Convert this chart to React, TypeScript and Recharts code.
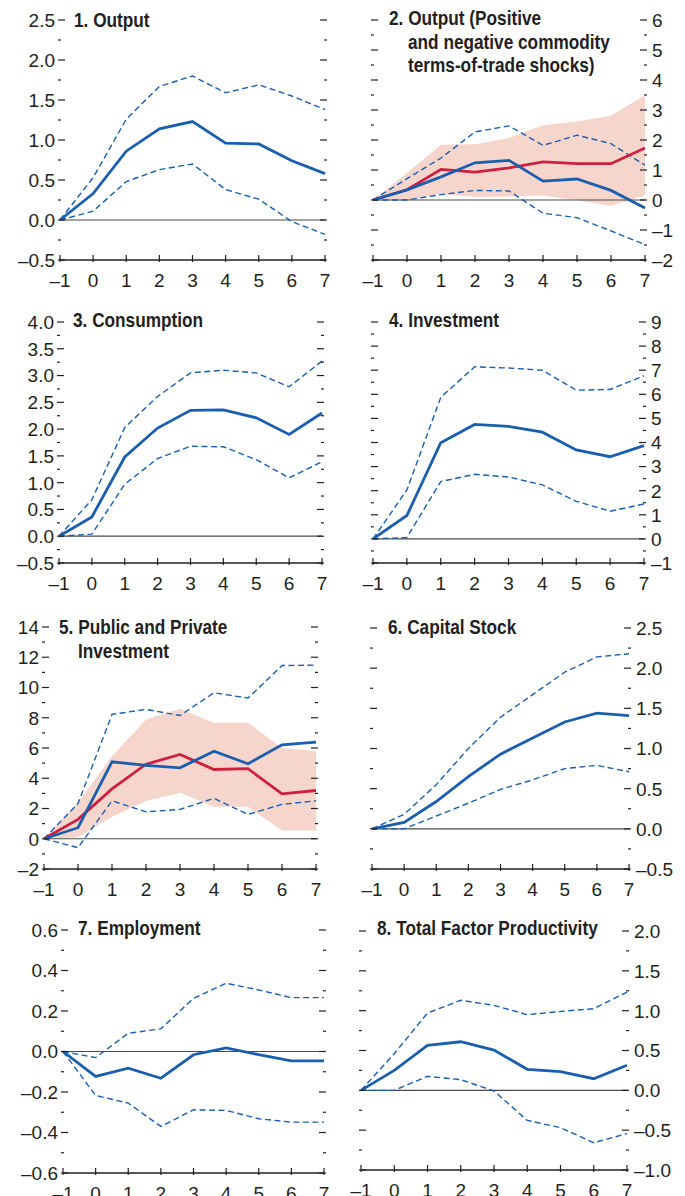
import React from 'react'
import { ComposedChart, Line, Area, XAxis, YAxis, ReferenceLine } from 'recharts'

// ── values (horizon −1 … 7) ────────────────────────────────────────────────

const HORIZON = [-1, 0, 1, 2, 3, 4, 5, 6, 7]

const OUTPUT_MID = [0, 0.33, 0.86, 1.14, 1.23, 0.96, 0.95, 0.74, 0.58]
const OUTPUT_HI  = [0, 0.53, 1.26, 1.67, 1.80, 1.59, 1.69, 1.55, 1.38]
const OUTPUT_LO  = [0, 0.11, 0.48, 0.63, 0.70, 0.38, 0.26, -0.02, -0.18]

const TOT_MID    = [0, 0.34, 0.77, 1.24, 1.32, 0.63, 0.70, 0.32, -0.27]
const TOT_HI     = [0, 0.71, 1.40, 2.27, 2.47, 1.82, 2.16, 1.88, 1.16]
const TOT_LO     = [0, 0, 0.18, 0.32, 0.30, -0.44, -0.59, -1.03, -1.49]
const TOT2_MID   = [0, 0.34, 1.02, 0.93, 1.07, 1.27, 1.21, 1.21, 1.73]
const TOT2_HI    = [0, 0.90, 1.84, 1.86, 2.07, 2.49, 2.62, 2.82, 3.49]
const TOT2_LO    = [0, -0.02, 0.20, 0.10, 0.12, 0.15, -0.01, -0.20, 0.16]

const CONS_MID   = [0, 0.36, 1.48, 2.02, 2.35, 2.36, 2.21, 1.90, 2.30]
const CONS_HI    = [0, 0.68, 2.03, 2.61, 3.05, 3.10, 3.05, 2.79, 3.27]
const CONS_LO    = [0, 0.04, 0.97, 1.45, 1.68, 1.67, 1.43, 1.09, 1.39]

const INV_MID    = [0, 0.97, 3.99, 4.75, 4.67, 4.43, 3.69, 3.41, 3.87]
const INV_HI     = [0, 2.03, 5.87, 7.14, 7.09, 7.00, 6.17, 6.20, 6.77]
const INV_LO     = [0, 0.06, 2.38, 2.68, 2.57, 2.24, 1.56, 1.15, 1.45]

const PPI_MID    = [0, 0.73, 5.09, 4.85, 4.69, 5.79, 4.96, 6.21, 6.39]
const PPI_HI     = [0, 2.33, 8.22, 8.55, 8.15, 9.65, 9.30, 11.45, 11.48]
const PPI_LO     = [0, -0.59, 2.51, 1.78, 1.94, 2.67, 1.61, 2.27, 2.51]
const PPI2_MID   = [0, 1.28, 3.30, 4.93, 5.57, 4.58, 4.63, 2.97, 3.19]
const PPI2_HI    = [0, 2.40, 5.46, 7.89, 8.59, 7.67, 7.67, 6.00, 5.80]
const PPI2_LO    = [0, 0.10, 1.45, 2.49, 3.04, 2.11, 2.11, 0.55, 0.55]

const CAP_MID    = [0, 0.08, 0.34, 0.65, 0.93, 1.13, 1.33, 1.44, 1.41]
const CAP_HI     = [0, 0.18, 0.55, 1.00, 1.39, 1.67, 1.95, 2.14, 2.18]
const CAP_LO     = [0, 0, 0.16, 0.32, 0.49, 0.61, 0.75, 0.79, 0.71]

const EMP_MID    = [0, -0.123, -0.082, -0.132, -0.016, 0.018, -0.016, -0.046, -0.046]
const EMP_HI     = [0, -0.030, 0.090, 0.112, 0.263, 0.337, 0.304, 0.266, 0.266]
const EMP_LO     = [0, -0.217, -0.255, -0.370, -0.288, -0.291, -0.332, -0.349, -0.349]

const TFP_MID    = [0, 0.25, 0.565, 0.61, 0.506, 0.264, 0.234, 0.146, 0.314]
const TFP_HI     = [0, 0.46, 0.97, 1.13, 1.067, 0.95, 0.99, 1.025, 1.234]
const TFP_LO     = [0, 0, 0.176, 0.134, -0.008, -0.377, -0.469, -0.657, -0.544]

// tick values (all) and the labelled ones
const T1 = [-0.5, -0.25, 0, 0.25, 0.5, 0.75, 1, 1.25, 1.5, 1.75, 2, 2.25, 2.5]
const L1 = [-0.5, 0, 0.5, 1, 1.5, 2, 2.5]
const T2 = [-2, -1.5, -1, -0.5, 0, 0.5, 1, 1.5, 2, 2.5, 3, 3.5, 4, 4.5, 5, 5.5, 6]
const L2 = [-2, -1, 0, 1, 2, 3, 4, 5, 6]
const T3 = [-0.5, -0.25, 0, 0.25, 0.5, 0.75, 1, 1.25, 1.5, 1.75, 2, 2.25, 2.5, 2.75, 3, 3.25, 3.5, 3.75, 4]
const L3 = [-0.5, 0, 0.5, 1, 1.5, 2, 2.5, 3, 3.5, 4]
const T4 = [-1, -0.5, 0, 0.5, 1, 1.5, 2, 2.5, 3, 3.5, 4, 4.5, 5, 5.5, 6, 6.5, 7, 7.5, 8, 8.5, 9]
const L4 = [-1, 0, 1, 2, 3, 4, 5, 6, 7, 8, 9]
const T5 = [-2, -1, 0, 1, 2, 3, 4, 5, 6, 7, 8, 9, 10, 11, 12, 13, 14]
const L5 = [-2, 0, 2, 4, 6, 8, 10, 12, 14]
const T6 = [-0.5, -0.25, 0, 0.25, 0.5, 0.75, 1, 1.25, 1.5, 1.75, 2, 2.25, 2.5]
const L6 = [-0.5, 0, 0.5, 1, 1.5, 2, 2.5]
const T7 = [-0.6, -0.5, -0.4, -0.3, -0.2, -0.1, 0, 0.1, 0.2, 0.3, 0.4, 0.5, 0.6]
const L7 = [-0.6, -0.4, -0.2, 0, 0.2, 0.4, 0.6]
const T8 = [-1, -0.75, -0.5, -0.25, 0, 0.25, 0.5, 0.75, 1, 1.25, 1.5, 1.75, 2]
const L8 = [-1, -0.5, 0, 0.5, 1, 1.5, 2]

// ── style ──────────────────────────────────────────────────────────────────

const INK   = '#231F20'
const BLUE  = '#1A5FAF'
const RED   = '#CF1F3F'
const BAND  = '#F6D5CC'
const TICK_FONT  = '"Liberation Sans", Arial, sans-serif'
const TITLE_FONT = '"Liberation Sans", Arial, sans-serif'
const TITLE_SQUEEZE = 0.82   // no narrow face installed, so condense the bold sans

const fmt = (v: number, d: number) => {
  const s = Math.abs(v).toFixed(d)
  return v < -1e-9 ? `–${s}` : s
}

const isIn = (arr: number[], v: number) => arr.some(a => Math.abs(a - v) < 1e-6)

function yTick(side: 'left' | 'right', labels: number[], dec: number, showLabels: boolean) {
  return (props: any) => {
    const { x, y, payload } = props
    const v = payload.value as number
    const major = isIn(labels, v)
    const len = major ? 7 : 3
    const dir = side === 'left' ? 1 : -1
    return (
      <g>
        <line x1={x} x2={x + dir * len} y1={y} y2={y} stroke={INK} strokeWidth={1.2} />
        {showLabels && major && (
          <text x={side === 'left' ? x - 3 : x + 5} y={y} dy="0.36em" fill={INK}
                fontFamily={TICK_FONT} fontSize={19} textAnchor={side === 'left' ? 'end' : 'start'}>
            {fmt(v, dec)}
          </text>
        )}
      </g>
    )
  }
}

const xTick = (props: any) => {
  const { x, y, payload } = props
  return (
    <g>
      <line x1={x} x2={x} y1={y} y2={y - 7} stroke={INK} strokeWidth={1.2} />
      <text x={x} y={y + 18} dy="0.36em" fill={INK} fontFamily={TICK_FONT} fontSize={19} textAnchor="middle">
        {fmt(payload.value, 0)}
      </text>
    </g>
  )
}

interface Panel {
  title:  string[]
  titleX: number
  titleY: number
  L: number; T: number; W: number; H: number
  pl: number; pr: number; pt: number; pb: number
  ticks:  number[]
  labels: number[]
  dec:    number
  side:   'left' | 'right'
  mid: number[]; hi: number[]; lo: number[]
  mid2?: number[]; hi2?: number[]; lo2?: number[]
}

const PANELS: Panel[] = [
  { title: ['1. Output'], titleX: 74, titleY: 20, L: 0, T: 0, W: 342, H: 300, pl: 60, pr: 325, pt: 20, pb: 260,
    ticks: T1, labels: L1, dec: 1, side: 'left', mid: OUTPUT_MID, hi: OUTPUT_HI, lo: OUTPUT_LO },
  { title: ['2. Output (Positive', 'and negative commodity', 'terms-of-trade shocks)'], titleX: 389, titleY: 18,
    L: 342, T: 0, W: 343, H: 300, pl: 373, pr: 645, pt: 20, pb: 260,
    ticks: T2, labels: L2, dec: 0, side: 'right', mid: TOT_MID, hi: TOT_HI, lo: TOT_LO,
    mid2: TOT2_MID, hi2: TOT2_HI, lo2: TOT2_LO },
  { title: ['3. Consumption'], titleX: 73, titleY: 320, L: 0, T: 300, W: 342, H: 300, pl: 59, pr: 322, pt: 322, pb: 563,
    ticks: T3, labels: L3, dec: 1, side: 'left', mid: CONS_MID, hi: CONS_HI, lo: CONS_LO },
  { title: ['4. Investment'], titleX: 389, titleY: 320, L: 342, T: 300, W: 343, H: 300, pl: 373, pr: 644, pt: 322, pb: 563,
    ticks: T4, labels: L4, dec: 0, side: 'right', mid: INV_MID, hi: INV_HI, lo: INV_LO },
  { title: ['5. Public and Private', 'Investment'], titleX: 59, titleY: 627, L: 0, T: 600, W: 342, H: 300,
    pl: 44, pr: 316, pt: 627, pb: 869,
    ticks: T5, labels: L5, dec: 0, side: 'left', mid: PPI_MID, hi: PPI_HI, lo: PPI_LO,
    mid2: PPI2_MID, hi2: PPI2_HI, lo2: PPI2_LO },
  { title: ['6. Capital Stock'], titleX: 388, titleY: 627, L: 342, T: 600, W: 343, H: 300, pl: 372, pr: 629, pt: 628, pb: 869,
    ticks: T6, labels: L6, dec: 1, side: 'right', mid: CAP_MID, hi: CAP_HI, lo: CAP_LO },
  { title: ['7. Employment'], titleX: 78, titleY: 928, L: 0, T: 900, W: 342, H: 296, pl: 63, pr: 324, pt: 930, pb: 1173,
    ticks: T7, labels: L7, dec: 1, side: 'left', mid: EMP_MID, hi: EMP_HI, lo: EMP_LO },
  { title: ['8. Total Factor Productivity'], titleX: 377, titleY: 928, L: 342, T: 900, W: 343, H: 296,
    pl: 361, pr: 627, pt: 931, pb: 1170,
    ticks: T8, labels: L8, dec: 1, side: 'right', mid: TFP_MID, hi: TFP_HI, lo: TFP_LO },
]

const X_AXIS_H = 20

function PanelChart({ p }: { p: Panel }) {
  const rows = HORIZON.map((h, i) => ({
    h,
    mid: p.mid[i],
    hi:  p.hi[i],
    lo:  p.lo[i],
    mid2: p.mid2 ? p.mid2[i] : undefined,
    band: p.hi2 && p.lo2 ? [p.lo2[i], p.hi2[i]] : undefined,
  }))
  const domain = [p.ticks[0], p.ticks[p.ticks.length - 1]]
  const leftW  = p.pl - p.L
  const rightW = p.L + p.W - p.pr
  const mTop   = p.pt - p.T
  const mBot   = p.T + p.H - p.pb - X_AXIS_H

  return (
    <div style={{ position: 'absolute', left: p.L, top: p.T }}>
      <ComposedChart width={p.W} height={p.H} data={rows} margin={{ top: mTop, right: 0, bottom: mBot, left: 0 }}>
        <XAxis dataKey="h" type="number" domain={[-1, 7]} ticks={HORIZON} interval={0} height={X_AXIS_H}
               axisLine={{ stroke: INK, strokeWidth: 1.5 }} tickLine={false} tickSize={0} tick={xTick} />
        <YAxis yAxisId="l" orientation="left" type="number" domain={domain} ticks={p.ticks} interval={0}
               allowDataOverflow width={leftW} axisLine={false} tickLine={false} tickSize={0}
               tick={yTick('left', p.labels, p.dec, p.side === 'left')} />
        <YAxis yAxisId="r" orientation="right" type="number" domain={domain} ticks={p.ticks} interval={0}
               allowDataOverflow width={rightW} axisLine={false} tickLine={false} tickSize={0}
               tick={yTick('right', p.labels, p.dec, p.side === 'right')} />
        {p.hi2 && (
          <Area yAxisId="l" type="linear" dataKey="band" fill={BAND} fillOpacity={1} stroke="none"
                isAnimationActive={false} />
        )}
        <ReferenceLine yAxisId="l" y={0} stroke="#4A4A4A" strokeWidth={1.2} />
        <Line yAxisId="l" type="linear" dataKey="hi" stroke={BLUE} strokeWidth={1.4} strokeDasharray="6 3.5"
              dot={false} isAnimationActive={false} />
        <Line yAxisId="l" type="linear" dataKey="lo" stroke={BLUE} strokeWidth={1.4} strokeDasharray="6 3.5"
              dot={false} isAnimationActive={false} />
        {p.mid2 && (
          <Line yAxisId="l" type="linear" dataKey="mid2" stroke={RED} strokeWidth={2.8}
                dot={false} isAnimationActive={false} />
        )}
        <Line yAxisId="l" type="linear" dataKey="mid" stroke={BLUE} strokeWidth={2.8}
              dot={false} isAnimationActive={false} />
      </ComposedChart>
      <div style={{ position: 'absolute', left: p.titleX - p.L, top: p.titleY - p.T - 11.75,
                    fontFamily: TITLE_FONT, fontWeight: 700, fontSize: 21, lineHeight: '23.5px',
                    color: INK, whiteSpace: 'nowrap',
                    transform: `scaleX(${TITLE_SQUEEZE})`, transformOrigin: '0 0' }}>
        {p.title.map((line, i) => (
          <div key={i} style={{ paddingLeft: i === 0 ? 0 : 19 / TITLE_SQUEEZE }}>{line}</div>
        ))}
      </div>
    </div>
  )
}

export default function App() {
  return (
    <div style={{ position: 'absolute', left: 0, top: 0, width: 685, height: 1196, background: '#fff', overflow: 'hidden' }}>
      {PANELS.map((p, i) => <PanelChart key={i} p={p} />)}
    </div>
  )
}
